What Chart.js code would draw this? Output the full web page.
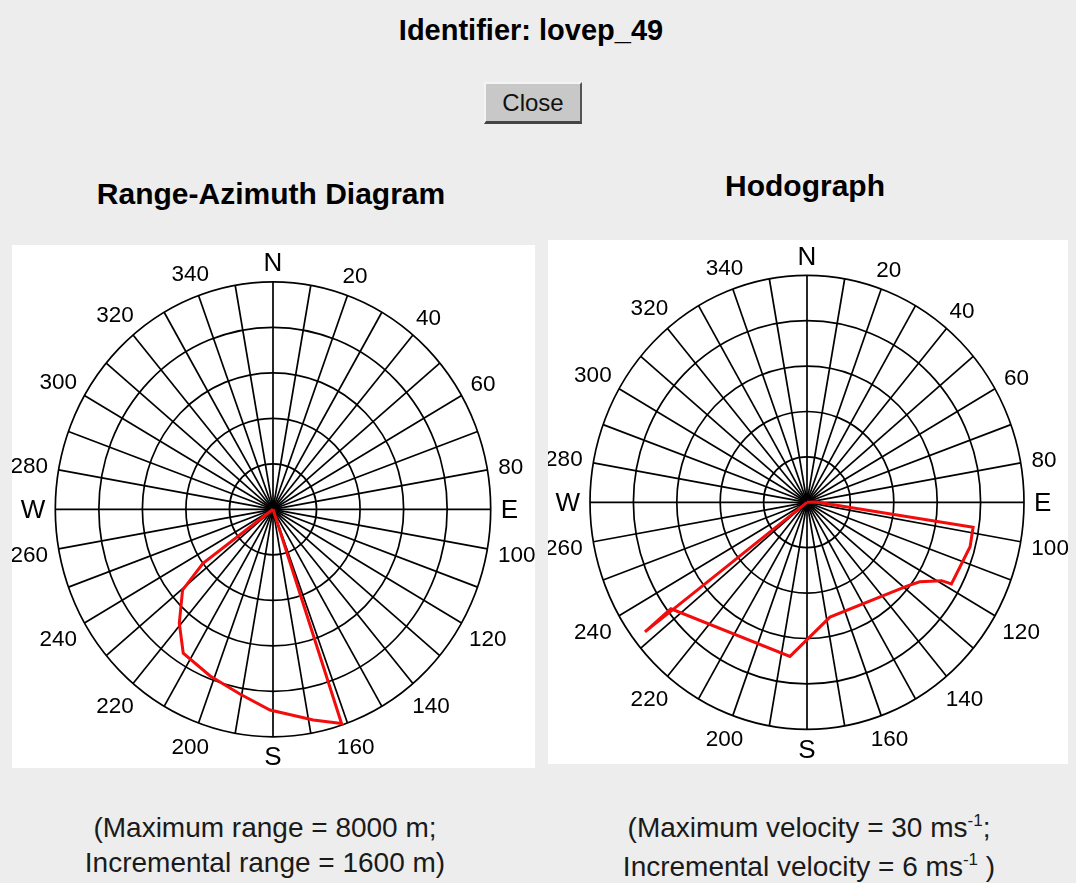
<!DOCTYPE html>
<html>
<head>
<meta charset="utf-8">
<script src="https://cdn.jsdelivr.net/npm/chart.js@4.4.1/dist/chart.umd.min.js"></script>
<style>
  body {
    margin: 0;
    width: 1076px;
    height: 883px;
    background: #ededed;
    position: relative;
    overflow: hidden;
    font-family: "Liberation Sans", Arial, Helvetica, sans-serif;
    color: #000;
  }
  .abs { position: absolute; }
  #title { left: 331px; width: 400px; top: 14px; text-align: center; font-weight: bold; font-size: 29px; }
  #closeBtn {
    left: 484px; top: 82px; width: 98px; height: 42px;
    box-sizing: border-box;
    background: #c8c8c8;
    border-top: 2px solid #f4f4f4; border-left: 2px solid #f4f4f4;
    border-right: 2px solid #555; border-bottom: 3px solid #444;
    font-size: 24px; line-height: 37px; text-align: center; color: #111;
  }
  .sub { font-weight: bold; font-size: 30px; text-align: center; width: 500px; }
  #subLeft { left: 21px; top: 177px; }
  #subRight { left: 555px; top: 169px; }
  .panel { background: #fff; }
  #panelLeft { left: 12px; top: 245px; width: 523px; height: 523px; }
  #panelRight { left: 548px; top: 240px; width: 520px; height: 524px; }
  .cap { font-size: 28px; text-align: center; width: 520px; line-height: 35px; color: #1a1a1a; }
  #capLeft { left: 5px; top: 810px; }
  #capRight { left: 549px; top: 810px; }
  sup { font-size: 17px; vertical-align: 0; position: relative; top: -11px; }
</style>
</head>
<body>
<div id="title" class="abs">Identifier: lovep_49</div>
<div id="closeBtn" class="abs">Close</div>
<div id="subLeft" class="abs sub">Range-Azimuth Diagram</div>
<div id="subRight" class="abs sub">Hodograph</div>
<div id="panelLeft" class="abs panel"><canvas id="rangeChart" width="523" height="523"></canvas></div>
<div id="panelRight" class="abs panel"><canvas id="hodoChart" width="520" height="524"></canvas></div>
<div id="capLeft" class="abs cap">(Maximum range = 8000 m;<br>Incremental range = 1600 m)</div>
<div id="capRight" class="abs cap">(Maximum velocity = 30 ms<sup>-1</sup>;<br>Incremental velocity = 6 ms<sup>-1</sup> )</div>

<script>
// compass tick labels (degrees clockwise from north)
const tickAngles = [0, 20, 40, 60, 80, 90, 100, 120, 140, 160, 180, 200, 220, 240, 260, 270, 280, 300, 320, 340];
const tickLabels = ['N', '20', '40', '60', '80', 'E', '100', '120', '140', '160', 'S', '200', '220', '240', '260', 'W', '280', '300', '320', '340'];
const spokeStep = 10;

// range-azimuth diagram (metres)
const rangeMax = 8000;
const rangeStep = 1600;
const rangeAzimuth = [0, 233.5, 229.5, 220.7, 213.1, 201.5, 190.6, 180.9, 168.7, 161.5, 0];
const rangeMetres = [0, 3200, 4370, 5280, 6040, 6300, 6610, 7060, 7555, 7940, 0];

// hodograph (m/s)
const velMax = 30;
const velStep = 6;
const hodoAzimuth = [0, 88, 98.2, 104.6, 118.4, 119.1, 124, 128.7, 168.2, 186.6, 233.2, 232.6, 0];
const hodoSpeed = [0, 1.3, 23.2, 23.3, 22.7, 21.3, 18.8, 17.7, 15.5, 20.5, 23.5, 28.2, 0];

const toRad = (d) => d * Math.PI / 180;

// grid rings, spokes and compass labels, drawn through the chart's own x/y scales
const polarGrid = {
    id: 'polarGrid',
    beforeDatasetsDraw(chart, args, opts) {
        const { ctx, scales: { x, y } } = chart;
        const cx = x.getPixelForValue(0);
        const cy = y.getPixelForValue(0);
        ctx.save();
        ctx.strokeStyle = '#000';
        ctx.lineWidth = 1.7;

        for (let r = opts.step; r <= opts.max + 1e-9; r += opts.step) {
            const rx = x.getPixelForValue(r) - cx;
            const ry = cy - y.getPixelForValue(r);
            ctx.beginPath();
            ctx.ellipse(cx, cy, rx, ry, 0, 0, Math.PI * 2);
            ctx.stroke();
        }

        for (let a = 0; a < 360; a += spokeStep) {
            ctx.beginPath();
            ctx.moveTo(cx, cy);
            ctx.lineTo(x.getPixelForValue(opts.max * Math.sin(toRad(a))),
                       y.getPixelForValue(opts.max * Math.cos(toRad(a))));
            ctx.stroke();
        }

        // dark knot where the spokes meet
        ctx.fillStyle = '#000';
        ctx.beginPath();
        ctx.moveTo(cx, cy - 10);
        ctx.lineTo(cx + 8, cy);
        ctx.lineTo(cx, cy + 10);
        ctx.lineTo(cx - 8, cy);
        ctx.closePath();
        ctx.fill();

        // compass labels outside the rim
        ctx.textAlign = 'center';
        ctx.textBaseline = 'middle';
        tickAngles.forEach((a, i) => {
            const text = tickLabels[i];
            const isLetter = isNaN(Number(text));
            ctx.font = (isLetter ? '26px' : '22.5px') + ' "Liberation Sans", Arial, sans-serif';
            const hw = ctx.measureText(text).width / 2;
            const hh = isLetter ? 9.5 : 8;
            const ux = Math.sin(toRad(a));
            const uy = -Math.cos(toRad(a));
            const px = x.getPixelForValue(opts.max * Math.sin(toRad(a)));
            const py = y.getPixelForValue(opts.max * Math.cos(toRad(a)));
            const d = 10 + Math.abs(ux) * hw + Math.abs(uy) * hh;
            ctx.fillText(text, px + ux * d, py + uy * d + 2);
        });
        ctx.restore();
    }
};

function makePolar(canvasId, azimuths, values, max, step, padding) {
    const points = azimuths.map((a, i) => ({
        x: values[i] * Math.sin(toRad(a)),
        y: values[i] * Math.cos(toRad(a)),
    }));
    return new Chart(document.getElementById(canvasId).getContext('2d'), {
        type: 'scatter',
        data: {
            datasets: [{
                data: points,
                showLine: true,
                borderColor: '#f20c0c',
                borderWidth: 3,
                pointRadius: 0,
                tension: 0,
                clip: false,
            }],
        },
        options: {
            responsive: false,
            animation: false,
            layout: { padding },
            scales: {
                x: { type: 'linear', min: -max, max: max, display: false },
                y: { type: 'linear', min: -max, max: max, display: false },
            },
            plugins: {
                legend: { display: false },
                tooltip: { enabled: false },
                polarGrid: { max, step },
            },
        },
        plugins: [polarGrid],
    });
}

makePolar('rangeChart', rangeAzimuth, rangeMetres, rangeMax, rangeStep,
    { left: 43.3, right: 44.3, top: 36.8, bottom: 31.2 });
makePolar('hodoChart', hodoAzimuth, hodoSpeed, velMax, velStep,
    { left: 42, right: 44, top: 35.3, bottom: 34.7 });
</script>
</body>
</html>
